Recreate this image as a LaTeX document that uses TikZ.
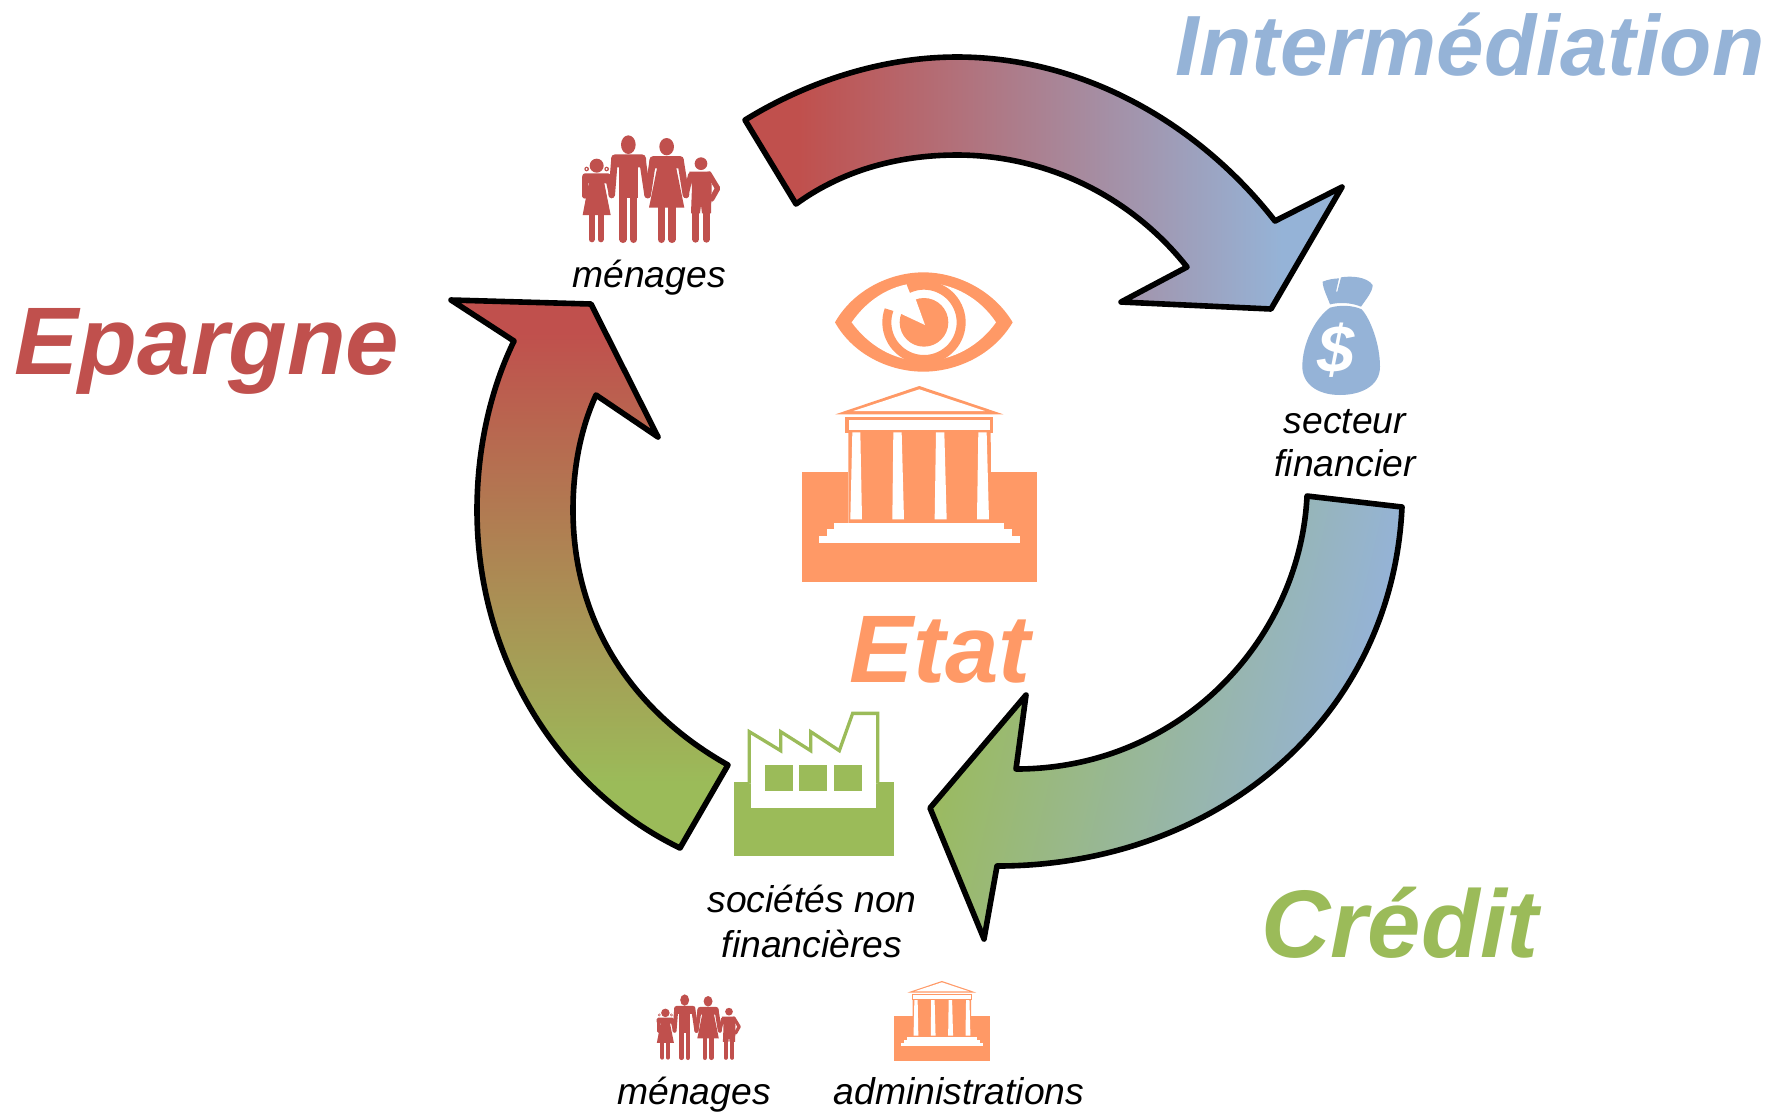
\documentclass[tikz,border=0pt]{standalone}
\usepackage{fontspec}
\setmainfont{Liberation Sans}
\definecolor{cred}{HTML}{C0504D}
\definecolor{cblue}{HTML}{95B3D7}
\definecolor{cgreen}{HTML}{9BBB59}
\definecolor{corange}{HTML}{FF9966}
\pgfdeclarehorizontalshading{flowone}{100bp}{color(0bp)=(cred); color(29.5bp)=(cred); color(70bp)=(cblue); color(100bp)=(cblue)}
\pgfdeclarehorizontalshading{flowtwo}{100bp}{color(0bp)=(cgreen); color(25bp)=(cgreen); color(70.5bp)=(cblue); color(100bp)=(cblue)}
\pgfdeclareverticalshading{flowthree}{100bp}{color(0bp)=(cgreen); color(31bp)=(cgreen); color(72bp)=(cred); color(100bp)=(cred)}
\tikzset{
  arrowshape/.style={draw=black,line width=0.056cm,line join=round},
  bigtitle/.style={inner sep=0,anchor=base,font=\fontsize{27.3}{27}\selectfont\bfseries\itshape},
  labeltext/.style={inner sep=0,anchor=base,font=\fontsize{10.6}{12}\selectfont\itshape,text=black},
}
\newcommand{\familyicon}[3]{%
\begin{scope}[shift={(#1,#2)},scale=#3,cred]
  % girl
  \fill (110,137) circle[radius=21];
  \fill (80,147) circle[radius=7]; \fill (140,147) circle[radius=7];
  \fill[white] (80,147) circle[radius=3]; \fill[white] (140,147) circle[radius=3];
  \fill[rounded corners=#3*0.08cm] (67,160) rectangle (152,190);
  \fill (87,185) -- (132,185) -- (152,285) -- (68,285) -- cycle;
  \draw[line width=#3*0.16cm,line cap=round] (75,172) -- (75,228);
  \draw[line width=#3*0.16cm,line cap=round] (143,172) -- (155,225);
  \draw[line width=#3*0.18cm,line cap=round] (95,285) -- (95,358);
  \draw[line width=#3*0.18cm,line cap=round] (122,285) -- (122,358);
  % father
  \fill (205,74) ellipse[x radius=22,y radius=28];
  \fill[rounded corners=#3*0.12cm] (153,103) rectangle (258,142);
  \fill (178,135) rectangle (233,235);
  \draw[line width=#3*0.2cm,line cap=round] (163,125) -- (155,225);
  \draw[line width=#3*0.2cm,line cap=round] (248,125) -- (263,225);
  \draw[line width=#3*0.22cm,line cap=round] (189,230) -- (189,358);
  \draw[line width=#3*0.22cm,line cap=round] (221,230) -- (221,358);
  % mother
  \fill (320,80) ellipse[x radius=22,y radius=26];
  \fill[rounded corners=#3*0.12cm] (268,108) rectangle (372,145);
  \fill (293,135) -- (347,135) -- (373,263) -- (267,263) -- cycle;
  \draw[line width=#3*0.2cm,line cap=round] (278,125) -- (263,225);
  \draw[line width=#3*0.2cm,line cap=round] (362,125) -- (378,225);
  \draw[line width=#3*0.22cm,line cap=round] (304,263) -- (304,358);
  \draw[line width=#3*0.22cm,line cap=round] (336,263) -- (336,358);
  % boy
  \fill (423,131) circle[radius=19];
  \fill (388,155) -- (452,155) -- (455,200) -- (453,280) -- (426,280) -- (423,255) -- (420,280) -- (393,280) -- (396,200) -- cycle;
  \draw[line width=#3*0.16cm,line cap=round] (392,165) -- (378,225);
  \draw[line width=#3*0.16cm,line cap=round,line join=round] (447,162) -- (473,205) -- (455,237);
  \draw[line width=#3*0.2cm,line cap=round] (407,280) -- (407,358);
  \draw[line width=#3*0.2cm,line cap=round] (439,280) -- (439,358);
\end{scope}}
\newcommand{\templeicon}[3]{%
\begin{scope}[shift={(#1,#2)},scale=#3]
  \fill[corange] (36,637) rectangle (741,965);
  \fill[white] (175,637) rectangle (604,800);
  \fill[corange] (136,463) -- (388,378) -- (640,463) -- cycle;
  \fill[white] (190,453) -- (388,388) -- (585,453) -- cycle;
  \fill[corange] (175,510) -- (602,510) -- (604,790) -- (175,790) -- cycle;
  \fill[corange] (166,471) rectangle (610,518);
  \fill[white] (176,481) rectangle (600,509);
  \fill[white] (187,517) -- (211,517) -- (216,778) -- (181,778) -- cycle;
  \fill[white] (310,517) -- (335,517) -- (342,778) -- (307,778) -- cycle;
  \fill[white] (438,517) -- (463,517) -- (470,778) -- (434,778) -- cycle;
  \fill[white] (565,517) -- (590,517) -- (597,778) -- (561,778) -- cycle;
  \fill[white] (133,788) rectangle (643,808);
  \fill[white] (110,808) rectangle (667,829);
  \fill[white] (87,829) rectangle (690,850);
\end{scope}}
\begin{document}
\begin{tikzpicture}[x=0.01cm,y=-0.01cm]
\useasboundingbox (0,0) rectangle (1776,1111);
\fill[white] (0,0) rectangle (1776,1111);
% big arrows
\path[arrowshape,shading=flowone]
  (745,120) .. controls (805,83) and (880,57) .. (957,57)
  .. controls (1085,57) and (1200,125) .. (1275,221)
  -- (1342,187) -- (1271,309) -- (1121,302) -- (1187,267)
  .. controls (1130,195) and (1045,155) .. (957,155)
  .. controls (895,155) and (840,172) .. (796,204) -- cycle;
\path[arrowshape,shading=flowtwo,shading angle=-13]
  (1402,507) .. controls (1392,720) and (1215,866) .. (997,866)
  -- (984,939) -- (930,808) -- (1026,695) -- (1016,769)
  .. controls (1180,769) and (1300,640) .. (1307,496) -- cycle;
\path[arrowshape,shading=flowthree]
  (680,848) .. controls (560,790) and (477,660) .. (477,510)
  .. controls (477,450) and (490,390) .. (514,341)
  -- (451,300) -- (591,304) -- (658,437) -- (596,395)
  .. controls (580,430) and (573,470) .. (573,510)
  .. controls (573,620) and (630,710) .. (728,765) -- cycle;
% family icons
\familyicon{560}{120}{0.3333}
\familyicon{643}{985}{0.2033}
% eye
\begin{scope}[shift={(790,260)},scale=0.3333]
  \fill[corange] (135,187) .. controls (190,90) and (300,37) .. (400,37)
    .. controls (500,37) and (610,90) .. (668,187)
    .. controls (610,285) and (500,335) .. (400,335)
    .. controls (300,335) and (190,285) .. (135,187) -- cycle;
  \fill[white] (185,187) .. controls (235,115) and (310,68) .. (400,68)
    .. controls (490,68) and (570,115) .. (618,187)
    .. controls (570,255) and (490,303) .. (400,303)
    .. controls (310,303) and (235,255) .. (185,187) -- cycle;
  \draw[corange,line width=0.09cm] (354.9,86) arc[start angle=-115,end angle=200,radius=111.5];
  \fill[corange] (402,187) circle[radius=73];
  \fill[white] (405,195) -- (326,158) -- (345,125) -- (375,112) -- cycle;
\end{scope}
\templeicon{790}{260}{0.3333}
\templeicon{888.8}{929.3}{0.1367}
% factory
\begin{scope}[shift={(720,700)},scale=0.3333]
  \fill[cgreen] (42,245) rectangle (522,468);
  \fill[white] (93,245) rectangle (468,325);
  \draw[cgreen,line width=0.033cm,miter limit=10,fill=white] (88,250) -- (88,95) -- (182,152) -- (182,95) -- (272,152) -- (272,95) -- (358,152) -- (398,40) -- (473,40) -- (473,250);
  \fill[white] (93,240) rectangle (468,325);
  \fill[cgreen] (134,196) rectangle (218,274);
  \fill[cgreen] (238,196) rectangle (322,274);
  \fill[cgreen] (343,196) rectangle (427,274);
\end{scope}
% money bag
\begin{scope}[shift={(1280,260)},scale=0.3333]
  \fill[cblue] (128,65) .. controls (145,58) and (160,56) .. (177,55)
    -- (168,95) -- (172,95) -- (183,52)
    .. controls (215,47) and (260,50) .. (278,75)
    .. controls (278,95) and (258,118) .. (243,140)
    .. controls (215,128) and (180,126) .. (150,133)
    .. controls (142,110) and (128,85) .. (128,65) -- cycle;
  \fill[cblue] (150,143) .. controls (180,134) and (220,136) .. (245,148)
    .. controls (270,175) and (300,250) .. (300,320)
    .. controls (300,380) and (240,405) .. (180,405)
    .. controls (110,405) and (67,370) .. (67,320)
    .. controls (67,250) and (105,175) .. (150,143) -- cycle;
\end{scope}
\node[inner sep=0,text=white,font=\fontsize{19}{21}\selectfont\bfseries\itshape] (dollar) at (1336,350) {\$};
% titles
\node[bigtitle,text=cblue,font=\fontsize{24.3}{27}\selectfont\bfseries\itshape] (inter) at (1470,75) {Intermédiation};
\node[bigtitle,text=cred] (epargne) at (207,374) {Epargne};
\node[bigtitle,text=cgreen] (credit) at (1400,957) {Crédit};
\node[bigtitle,text=corange] (etat) at (940,682) {Etat};
% labels
\node[labeltext] (men1) at (649,287) {ménages};
\node[labeltext] (sec1) at (1345,433) {secteur};
\node[labeltext] (sec2) at (1345,476) {financier};
\node[labeltext] (soc1) at (812,912) {sociétés non};
\node[labeltext] (soc2) at (812,957) {financières};
\node[labeltext] (men2) at (694,1104) {ménages};
\node[labeltext] (adm) at (959,1104) {administrations};
\end{tikzpicture}
\end{document}
